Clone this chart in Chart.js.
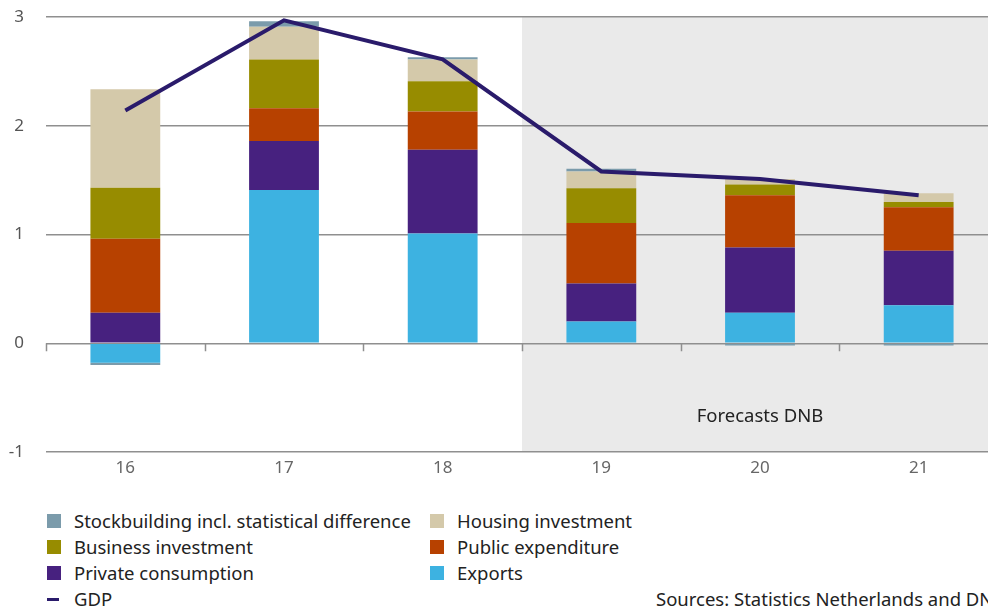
<!DOCTYPE html>
<html>
<head>
<meta charset="utf-8">
<script src="https://cdn.jsdelivr.net/npm/chart.js@4"></script>
<style>
  html, body { margin: 0; padding: 0; background: #fff; overflow: hidden; width: 988px; height: 611px; }
  #wrap { position: absolute; left: 0; top: 0; width: 998px; height: 480px; }
  .legend { position: absolute; font-family: "Noto Sans", sans-serif; font-size: 18.5px; color: #222; }
  .item { position: absolute; white-space: nowrap; line-height: 22px; }
  .sw { position: absolute; left: 0; top: 4px; width: 14px; height: 14px; }
  .item span.t { position: absolute; left: 27px; top: 0; }
  .src { position: absolute; left: 656px; top: 588px; font-family: "Noto Sans", sans-serif; font-size: 18.5px; color: #222; white-space: nowrap; line-height: 22px; }
</style>
</head>
<body>
<div id="wrap"><canvas id="myChart" width="998" height="480"></canvas></div>
<div class="legend" id="legend"></div>
<div class="src">Sources: Statistics Netherlands and DNB</div>
<script>
const years = ['16', '17', '18', '19', '20', '21']
const exportsVals = [-0.18, 1.41, 1.01, 0.20, 0.28, 0.35]
const privateVals = [0.28, 0.45, 0.77, 0.35, 0.60, 0.50]
const publicVals = [0.68, 0.30, 0.35, 0.555, 0.48, 0.40]
const businessVals = [0.47, 0.45, 0.28, 0.32, 0.10, 0.05]
const housingVals = [0.905, 0.30, 0.20, 0.155, 0.05, 0.08]
const stockVals = [-0.02, 0.05, 0.02, 0.025, -0.02, -0.02]
const gdpVals = [2.14, 2.97, 2.61, 1.58, 1.51, 1.36]
const yTicks = [3, 2, 1, 0, -1]

const colors = {
    stock: '#7b9bab',
    housing: '#d4c9aa',
    business: '#978c00',
    public: '#b74100',
    private: '#47217f',
    exports: '#3db2e1',
    gdp: '#2a1b6b'
}

function bar(label, data, color){
    return {
        type: 'bar',
        label: label,
        data: data,
        backgroundColor: color,
        borderWidth: 0,
        stack: 's',
        order: 1,
        barPercentage: 0.44,
        categoryPercentage: 1
    }
}

// grey forecast block, small ticks on the zero line and the caption
const forecastPlugin = {
    id: 'forecast',
    beforeDraw(chart){
        const {ctx, chartArea, scales} = chart
        const x0 = scales.x.getPixelForValue(2.5)
        ctx.save()
        ctx.fillStyle = '#eaeaea'
        ctx.fillRect(x0, chartArea.top, chartArea.right - x0, chartArea.bottom - chartArea.top)
        ctx.restore()
    },
    afterDatasetsDraw(chart){
        const {ctx, chartArea, scales} = chart
        const y0 = scales.y.getPixelForValue(0)
        ctx.save()
        ctx.strokeStyle = '#8f8f8f'
        ctx.lineWidth = 1.5
        for (let i = 0; i < years.length; i++) {
            const x = Math.round(scales.x.getPixelForValue(i - 0.5)) + 0.5
            ctx.beginPath()
            ctx.moveTo(x, y0)
            ctx.lineTo(x, y0 + 8)
            ctx.stroke()
        }
        const xc = (scales.x.getPixelForValue(2.5) + chartArea.right) / 2
        ctx.fillStyle = '#222'
        ctx.font = '18.5px "Noto Sans"'
        ctx.textAlign = 'center'
        ctx.textBaseline = 'middle'
        ctx.fillText('Forecasts DNB', xc, scales.y.getPixelForValue(-0.68))
        ctx.restore()
    }
}

const ctx = document.getElementById('myChart').getContext('2d')
const myChart = new Chart(ctx, {
    data: {
        labels: years,
        datasets: [
            bar('Exports', exportsVals, colors.exports),
            bar('Private consumption', privateVals, colors.private),
            bar('Public expenditure', publicVals, colors.public),
            bar('Business investment', businessVals, colors.business),
            bar('Housing investment', housingVals, colors.housing),
            bar('Stockbuilding incl. statistical difference', stockVals, colors.stock),
            {
                type: 'line',
                label: 'GDP',
                data: gdpVals,
                borderColor: colors.gdp,
                borderWidth: 4,
                pointRadius: 0,
                tension: 0,
                order: 0
            }
        ]
    },
    options: {
        responsive: false,
        animation: false,
        devicePixelRatio: 1,
        layout: { padding: { top: 17, left: 0, right: 0, bottom: 0 } },
        plugins: { legend: { display: false }, tooltip: { enabled: false } },
        scales: {
            x: {
                stacked: true,
                grid: { display: false, drawTicks: false },
                border: { display: false },
                ticks: { color: '#666', font: { family: 'Noto Sans', size: 17 }, padding: 6 },
                afterFit(scale){ scale.height = 28 }
            },
            y: {
                stacked: true,
                min: -1,
                max: 3,
                afterBuildTicks(scale){ scale.ticks = yTicks.map(v => ({value: v})) },
                grid: { color: '#8f8f8f', lineWidth: 1.5, drawTicks: false },
                border: { display: false },
                ticks: { color: '#555', font: { family: 'Noto Sans', size: 17 }, padding: 22 },
                afterFit(scale){
                    scale.width = 46
                    scale.paddingTop = 0
                    scale.paddingBottom = 0
                }
            }
        }
    },
    plugins: [forecastPlugin]
})

// legend, two columns
const legendItems = [
    ['Stockbuilding incl. statistical difference', colors.stock, 0, 0],
    ['Housing investment', colors.housing, 1, 0],
    ['Business investment', colors.business, 0, 1],
    ['Public expenditure', colors.public, 1, 1],
    ['Private consumption', colors.private, 0, 2],
    ['Exports', colors.exports, 1, 2],
    ['GDP', colors.gdp, 0, 3]
]
const legend = document.getElementById('legend')
legendItems.forEach(([text, color, col, row]) => {
    const el = document.createElement('div')
    el.className = 'item'
    el.style.left = (col ? 430 : 47) + 'px'
    el.style.top = (510 + row * 26) + 'px'
    const sw = document.createElement('div')
    sw.className = 'sw'
    sw.style.background = color
    if (text === 'GDP') { sw.style.top = '10px'; sw.style.height = '3px'; sw.style.width = '12px' }
    const t = document.createElement('span')
    t.className = 't'
    t.textContent = text
    el.appendChild(sw)
    el.appendChild(t)
    legend.appendChild(el)
})
</script>
</body>
</html>
